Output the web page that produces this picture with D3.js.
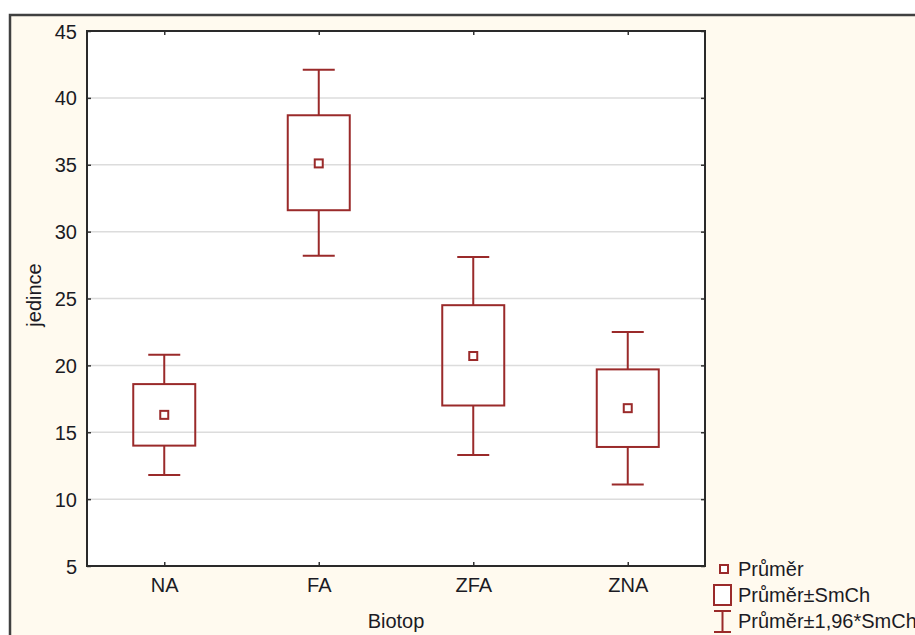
<!DOCTYPE html>
<html>
<head>
<meta charset="utf-8">
<script src="https://cdn.jsdelivr.net/npm/d3@7"></script>
<style>
  html, body { margin: 0; padding: 0; background: #ffffff; }
  svg { display: block; }
  text { font-family: "Liberation Sans", Arial, sans-serif; fill: #1b1b24; }
</style>
</head>
<body>
<svg id="chart" width="915" height="635"></svg>
<script>
// Biotop groups and their summary statistics (jedinci)
const categories = ["NA", "FA", "ZFA", "ZNA"];
const means      = [16.3, 35.1, 20.7, 16.8];
const seLow      = [14.0, 31.6, 17.0, 13.9];   // průměr − SmCh
const seHigh     = [18.6, 38.7, 24.5, 19.7];   // průměr + SmCh
const ciLow      = [11.8, 28.2, 13.3, 11.1];   // průměr − 1,96*SmCh
const ciHigh     = [20.8, 42.1, 28.1, 22.5];   // průměr + 1,96*SmCh
const yTicks     = [5, 10, 15, 20, 25, 30, 35, 40, 45];
const legendLabels = ["Průměr", "Průměr±SmCh", "Průměr±1,96*SmCh"];

const data = categories.map((c, i) => ({
  cat: c, mean: means[i], seLo: seLow[i], seHi: seHigh[i], ciLo: ciLow[i], ciHi: ciHigh[i]
}));

const markColor = "#9a2a2a";
const fontSize = 20;
const svg = d3.select("#chart");

// panel background and frame
svg.append("rect").attr("x", 10).attr("y", 15).attr("width", 915).attr("height", 640)
  .attr("fill", "#fffaef");
svg.append("path").attr("d", "M10,640 V15 H920")
  .attr("fill", "none").attr("stroke", "#404040").attr("stroke-width", 2.5);

const plot = { left: 87, top: 31, right: 705, bottom: 566 };

const x = d3.scalePoint().domain(categories)
  .range([plot.left, plot.right]).padding(0.5);
const y = d3.scaleLinear().domain([5, 45]).range([plot.bottom, plot.top]);

// plot area
svg.append("rect")
  .attr("x", plot.left).attr("y", plot.top)
  .attr("width", plot.right - plot.left).attr("height", plot.bottom - plot.top)
  .attr("fill", "#ffffff");

// grid lines
svg.append("g").selectAll("line")
  .data(yTicks.filter(t => t > 5 && t < 45))
  .join("line")
  .attr("x1", plot.left).attr("x2", plot.right)
  .attr("y1", d => y(d)).attr("y2", d => y(d))
  .attr("stroke", "#dcdcdc").attr("stroke-width", 1.5);

// axes with short inward ticks
const axisL = svg.append("g").attr("transform", `translate(${plot.left},0)`)
  .call(d3.axisLeft(y).tickValues(yTicks).tickSize(-4).tickPadding(10).tickFormat(d3.format("d")));
const axisR = svg.append("g").attr("transform", `translate(${plot.right},0)`)
  .call(d3.axisRight(y).tickValues(yTicks).tickSize(-4).tickFormat(""));
const axisB = svg.append("g").attr("transform", `translate(0,${plot.bottom})`)
  .call(d3.axisBottom(x).tickSize(-4).tickPadding(12));
const axisT = svg.append("g").attr("transform", `translate(0,${plot.top})`)
  .call(d3.axisTop(x).tickSize(-4).tickFormat(""));

[axisL, axisR, axisB, axisT].forEach(g => {
  g.select(".domain").remove();
  g.selectAll(".tick line").attr("stroke", "#333").attr("stroke-width", 1.5);
  g.selectAll(".tick text").attr("font-size", fontSize).attr("fill", "#1b1b24")
    .attr("font-family", "Liberation Sans, Arial, sans-serif");
});
axisL.selectAll(".tick text").attr("dy", "0.35em");
axisB.selectAll(".tick text").attr("dy", "0.7em");

// plot border
svg.append("rect")
  .attr("x", plot.left).attr("y", plot.top)
  .attr("width", plot.right - plot.left).attr("height", plot.bottom - plot.top)
  .attr("fill", "none").attr("stroke", "#2a2a2a").attr("stroke-width", 2);

// whiskers, boxes and mean markers
const boxW = 62, capW = 32, meanS = 8;
const groups = svg.append("g").selectAll("g").data(data).join("g")
  .attr("transform", d => `translate(${x(d.cat)},0)`);

groups.append("line").attr("x1", 0).attr("x2", 0)
  .attr("y1", d => y(d.ciHi)).attr("y2", d => y(d.seHi));
groups.append("line").attr("x1", 0).attr("x2", 0)
  .attr("y1", d => y(d.seLo)).attr("y2", d => y(d.ciLo));
groups.append("line").attr("x1", -capW / 2).attr("x2", capW / 2)
  .attr("y1", d => y(d.ciHi)).attr("y2", d => y(d.ciHi));
groups.append("line").attr("x1", -capW / 2).attr("x2", capW / 2)
  .attr("y1", d => y(d.ciLo)).attr("y2", d => y(d.ciLo));
groups.append("rect").attr("x", -boxW / 2).attr("width", boxW)
  .attr("y", d => y(d.seHi)).attr("height", d => y(d.seLo) - y(d.seHi))
  .attr("fill", "none");
groups.append("rect").attr("x", -meanS / 2).attr("width", meanS)
  .attr("y", d => y(d.mean) - meanS / 2).attr("height", meanS)
  .attr("fill", "#ffffff");
groups.selectAll("line, rect").attr("stroke", markColor).attr("stroke-width", 2);

// axis titles
svg.append("text").attr("x", 396).attr("y", 628).attr("text-anchor", "middle")
  .attr("font-size", fontSize).text("Biotop");
svg.append("text").attr("transform", "translate(41,295) rotate(-90)")
  .attr("text-anchor", "middle").attr("font-size", fontSize).text("jedince");

// legend
const lg = svg.append("g");
const rowY = [569, 595, 621];
lg.append("rect").attr("x", 720).attr("y", rowY[0] - 4).attr("width", 8).attr("height", 8)
  .attr("fill", "#ffffff").attr("stroke", markColor).attr("stroke-width", 2);
lg.append("rect").attr("x", 714).attr("y", rowY[1] - 10).attr("width", 17).attr("height", 20)
  .attr("fill", "#ffffff").attr("stroke", markColor).attr("stroke-width", 2);
lg.append("path")
  .attr("d", `M714,${rowY[2] - 10}H731M722.5,${rowY[2] - 10}V${rowY[2] + 11}M714,${rowY[2] + 11}H731`)
  .attr("fill", "none").attr("stroke", markColor).attr("stroke-width", 2);
lg.selectAll("text").data(legendLabels).join("text")
  .attr("x", 738).attr("y", (d, i) => rowY[i]).attr("dy", "0.35em")
  .attr("font-size", fontSize).text(d => d);
</script>
</body>
</html>
